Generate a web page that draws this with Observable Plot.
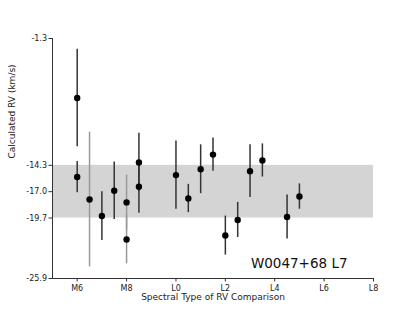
<!DOCTYPE html>
<html><head><meta charset="utf-8">
<script src="https://cdn.jsdelivr.net/npm/d3@7"></script>
<script src="https://cdn.jsdelivr.net/npm/@observablehq/plot@0.6"></script>
<style>body{margin:0;background:#fff}</style>
</head><body><div id="chart"></div>
<script>
// Spectral type code: M6 = 6, M8 = 8, L0 = 10, L2 = 12 ...
const spectralType = [6, 6, 6.5, 7, 7.5, 8, 8, 8.5, 8.5, 10, 10.5, 11, 11.5, 12, 12.5, 13, 13.5, 14.5, 15];
const calcRV = [-7.4, -15.5, -17.8, -19.5, -16.9, -18.1, -21.9, -14.0, -16.5, -15.3, -17.7, -14.7, -13.2, -21.5, -19.9, -14.9, -13.8, -19.6, -17.5];
const rvErr = [5.0, 1.6, 6.9, 2.5, 2.95, 2.8, 2.5, 3.0, 2.7, 3.5, 1.45, 2.5, 1.7, 2.0, 1.8, 2.7, 1.7, 2.25, 1.3];
const quality = ["good","good","poor","good","good","poor","poor","good","good","good","good","good","good","good","good","good","good","good","good"];

const xTicks = [6, 8, 10, 12, 14, 16, 18];
const xTickLabels = ["M6", "M8", "L0", "L2", "L4", "L6", "L8"];
const yTicks = [-25.9, -19.7, -17.0, -14.3, -1.3];
const bandRange = [-19.7, -14.3];
const xLimits = [5, 18];
const yLimits = [-25.9, -1.3];
const targetLabel = "W0047+68 L7";
const xLabel = "Spectral Type of RV Comparison";
const yLabel = "Calculated RV (km/s)";

const rows = spectralType.map((s, i) => ({s, rv: calcRV[i], lo: calcRV[i] - rvErr[i], hi: calcRV[i] + rvErr[i], q: quality[i]}));
const band = [{x1: xLimits[0], x2: xLimits[1], y1: bandRange[0], y2: bandRange[1]}];

const chart = Plot.plot({
  width: 415, height: 312,
  marginLeft: 52, marginRight: 42, marginTop: 38, marginBottom: 34,
  style: {fontFamily: "DejaVu Sans", fontSize: "8px", color: "#222", background: "#fff"},
  x: {domain: xLimits},
  y: {domain: yLimits},
  color: {type: "ordinal", domain: ["good", "poor"], range: ["#333", "#999"]},
  marks: [
    Plot.rect(band, {x1: "x1", x2: "x2", y1: "y1", y2: "y2", fill: "#d4d4d4"}),
    Plot.ruleX(rows, {x: "s", y1: "lo", y2: "hi", stroke: "q", strokeWidth: 1.5}),
    Plot.dot(rows, {x: "s", y: "rv", r: 3.2, fill: "#000", stroke: "none"}),
    Plot.ruleX([xLimits[0]], {stroke: "#333"}),
    Plot.ruleY([yLimits[0]], {stroke: "#333"}),
    Plot.axisX({ticks: xTicks, tickFormat: d => xTickLabels[xTicks.indexOf(d)], tickSize: 3.5, tickPadding: 3, label: null, stroke: "#333"}),
    Plot.axisY({ticks: yTicks, tickFormat: d => d.toFixed(1), tickSize: 3.5, tickPadding: 2, label: null, stroke: "#333"}),
    Plot.text([xLabel], {frameAnchor: "bottom", dy: 21, fontSize: 9, fill: "#222"}),
    Plot.text([yLabel], {frameAnchor: "left", dx: -40, rotate: -90, fontSize: 9, fill: "#222"}),
    Plot.text([targetLabel], {frameAnchor: "bottom-right", dx: -26, dy: -11, textAnchor: "end", lineAnchor: "bottom", fontSize: 13.5, fill: "#111"})
  ]
});
document.getElementById("chart").appendChild(chart);
</script>
</body></html>
